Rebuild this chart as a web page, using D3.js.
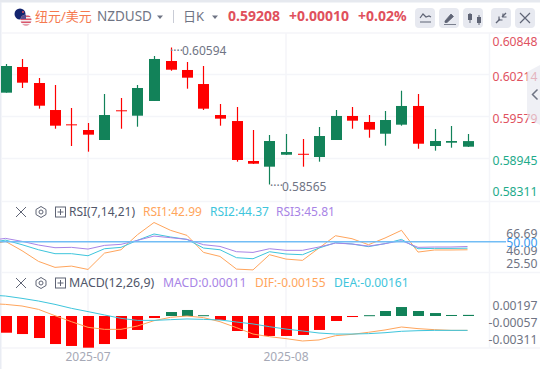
<!DOCTYPE html>
<html>
<head>
<meta charset="utf-8">
<script src="https://cdn.jsdelivr.net/npm/d3@7"></script>
<style>
html, body { margin: 0; padding: 0; background: #fff; overflow: hidden; }
text { font-family: "Noto Sans", "Noto Sans CJK SC", sans-serif; }
</style>
</head>
<body>
<script>
// daily candles (red = falling, green = rising)
const opens  = [0.59925, 0.60305, 0.60068, 0.59668, 0.59456, 0.59372, 0.59224, 0.59664, 0.59584, 0.59802, 0.60394, 0.60261, 0.60053, 0.59594, 0.59505, 0.58913, 0.58829, 0.59006, 0.59020, 0.58972, 0.59224, 0.59580, 0.59491, 0.59317, 0.59451, 0.59728, 0.59135, 0.59184, 0.59125];
const closes = [0.60320, 0.60073, 0.59732, 0.59436, 0.59446, 0.59303, 0.59594, 0.59659, 0.59994, 0.60424, 0.60265, 0.60147, 0.59688, 0.59540, 0.58928, 0.58873, 0.59209, 0.59046, 0.59012, 0.59283, 0.59580, 0.59510, 0.59377, 0.59520, 0.59728, 0.59169, 0.59209, 0.59209, 0.59208];
const highs  = [0.60350, 0.60424, 0.60142, 0.60039, 0.59698, 0.59476, 0.59905, 0.59846, 0.60039, 0.60468, 0.60594, 0.60379, 0.60320, 0.59757, 0.59713, 0.59372, 0.59298, 0.59313, 0.59239, 0.59417, 0.59668, 0.59713, 0.59594, 0.59654, 0.59954, 0.59905, 0.59387, 0.59431, 0.59313];
const lows   = [0.59925, 0.59994, 0.59688, 0.59391, 0.59135, 0.59051, 0.59224, 0.59391, 0.59421, 0.59802, 0.60250, 0.59984, 0.59668, 0.59436, 0.58903, 0.58869, 0.58565, 0.59002, 0.58829, 0.58903, 0.59224, 0.59391, 0.59258, 0.59140, 0.59436, 0.59095, 0.59066, 0.59110, 0.59120];

// first entry of each line is the point just left of the frame
const rsi1 = [47.0, 50.3, 42.2, 32.9, 27.7, 28.8, 25.9, 40.1, 43.0, 56.1, 66.69, 59.9, 55.5, 40.7, 37.2, 26.2, 25.5, 38.7, 34.9, 33.8, 44.5, 55.2, 52.6, 47.4, 53.2, 59.9, 41.0, 42.8, 42.8, 42.99];
const rsi2 = [49.0, 51.4, 47.4, 43.0, 39.6, 39.6, 37.8, 43.9, 45.1, 51.2, 56.7, 54.1, 52.0, 44.5, 43.0, 36.1, 35.2, 41.3, 39.3, 38.7, 44.5, 49.1, 48.0, 45.7, 48.3, 52.0, 43.9, 44.2, 44.2, 44.37];
const rsi3 = [51.0, 52.9, 50.3, 47.1, 44.8, 45.1, 43.6, 46.8, 47.7, 51.2, 54.9, 53.5, 52.0, 47.4, 45.9, 41.3, 40.7, 43.9, 42.5, 42.5, 45.4, 48.8, 48.0, 46.2, 48.3, 50.9, 45.1, 45.4, 45.4, 45.81];

const macdBars = [-0.00164, -0.00177, -0.00216, -0.00275, -0.00294, -0.00311, -0.00275, -0.00226, -0.00137, -0.00020, 0.00039, 0.00059, 0.00008, -0.00039, -0.00147, -0.00216, -0.00196, -0.00196, -0.00186, -0.00137, -0.00049, -0.00010, 0.00008, 0.00049, 0.00088, 0.00049, 0.00029, 0.00010, 0.00011];
const dif = [0.00122, 0.00114, 0.00098, 0.00065, 0.00003, -0.00056, -0.00111, -0.00131, -0.00131, -0.00098, -0.00046, -0.00013, 0.00000, -0.00016, -0.00056, -0.00114, -0.00177, -0.00203, -0.00222, -0.00245, -0.00235, -0.00193, -0.00180, -0.00160, -0.00137, -0.00108, -0.00124, -0.00134, -0.00141, -0.00141];
const dea = [0.00206, 0.00196, 0.00173, 0.00147, 0.00114, 0.00075, 0.00043, 0.00010, -0.00023, -0.00043, -0.00043, -0.00036, -0.00029, -0.00033, -0.00039, -0.00059, -0.00078, -0.00105, -0.00128, -0.00147, -0.00167, -0.00177, -0.00177, -0.00173, -0.00164, -0.00150, -0.00144, -0.00141, -0.00141, -0.00141];

const priceTicks = [0.60214, 0.59579, 0.58945];
const priceEdgeLabels = ["0.60848", "0.58311"];
const rsiTicks = ["66.69", "50.00", "46.09", "25.50"];
const macdTicks = ["0.00197", "-0.00057", "-0.00311"];
const months = [[5, "2025-07"], [17, "2025-08"]];

const width = 540;
const height = 369;
const red = "#ff0000";
const green = "#128259";
const gridColor = "#f4f5f9";
const grey = "#6f7484";

const svg = d3.select("body").append("svg")
    .attr("width", width)
    .attr("height", height)
    .style("display", "block");

// candle index -> pixel, shared by all three panels
const x = d3.scaleLinear().domain([0, 28]).range([5.5, 467.5]);
const y = d3.scaleLinear().domain([0.58565, 0.60594]).range([184.5, 47.5]);
const yRsi = d3.scaleLinear().domain([25.5, 66.69]).range([269.9, 222.5]);
const yMacd = d3.scaleLinear().domain([-0.00311, 0]).range([347.7, 316]);

// frame
svg.append("rect").attr("width", width).attr("height", 2.5).attr("fill", "#e6e9ef");
svg.append("rect").attr("y", 2).attr("width", 1.5).attr("height", height).attr("fill", "#e9ecf3");

// grid
const grid = svg.append("g").attr("stroke", gridColor).attr("stroke-width", 1.5);
grid.selectAll(".h").data(priceTicks).enter().append("line")
    .attr("x1", 2).attr("x2", 489)
    .attr("y1", function(d, i) { return [74.5, 116.5, 158.5][i]; })
    .attr("y2", function(d, i) { return [74.5, 116.5, 158.5][i]; });
grid.selectAll(".v").data(months).enter().append("line")
    .attr("x1", function(d) { return x(d[0]); })
    .attr("x2", function(d) { return x(d[0]); })
    .attr("y1", 33).attr("y2", 348);
[33, 201.5, 272.5, 348].forEach(function(v) {
    grid.append("line").attr("x1", 2).attr("x2", 540).attr("y1", v).attr("y2", v);
});
grid.append("line").attr("x1", 489.5).attr("x2", 489.5).attr("y1", 33).attr("y2", 348);

// candles
const candles = svg.append("g").selectAll("g")
    .data(opens)
    .enter().append("g")
    .attr("fill", function(d, i) { return closes[i] >= d ? green : red; })
    .attr("stroke", function(d, i) { return closes[i] >= d ? green : red; });

candles.append("line")
    .attr("stroke-width", 1.2)
    .attr("x1", function(d, i) { return Math.round(x(i)) + 0.5; })
    .attr("x2", function(d, i) { return Math.round(x(i)) + 0.5; })
    .attr("y1", function(d, i) { return y(highs[i]); })
    .attr("y2", function(d, i) { return y(lows[i]); });

candles.append("rect")
    .attr("stroke", "none")
    .attr("x", function(d, i) { return Math.round(x(i)) - 5; })
    .attr("width", 11)
    .attr("y", function(d, i) { return y(Math.max(d, closes[i])); })
    .attr("height", function(d, i) { return Math.max(1, Math.abs(y(d) - y(closes[i]))); });

// hi / lo notes
function note(txt, tx, ty) {
    svg.append("text").attr("x", tx).attr("y", ty)
        .attr("font-size", 12).attr("fill", grey).text(txt);
}
note("····", 170, 55);
note("0.60594", 182, 55);
note("····", 270, 190);
note("0.58565", 282, 191);

// rsi
const rsiLine = d3.line()
    .x(function(d, i) { return x(i - 1); })
    .y(function(d) { return yRsi(d); });
const rsiColors = ["#ffa55c", "#3ec5dc", "#a884e6"];
[rsi1, rsi2, rsi3].forEach(function(s, i) {
    svg.append("path").attr("d", rsiLine(s))
        .attr("fill", "none").attr("stroke", rsiColors[i]).attr("stroke-width", 1);
});
svg.append("line")
    .attr("x1", 0).attr("x2", 506)
    .attr("y1", yRsi(50)).attr("y2", yRsi(50))
    .attr("stroke", "#72bdf5").attr("stroke-width", 1.6);

// macd
svg.append("g").selectAll("rect")
    .data(macdBars)
    .enter().append("rect")
    .attr("x", function(d, i) { return Math.round(x(i)) - 5; })
    .attr("width", 11)
    .attr("y", function(d) { return d >= 0 ? yMacd(d) : yMacd(0); })
    .attr("height", function(d) { return Math.max(1, Math.abs(yMacd(d) - yMacd(0))); })
    .attr("fill", function(d) { return d >= 0 ? green : red; });

const macdLine = d3.line()
    .x(function(d, i) { return x(i - 1); })
    .y(function(d) { return yMacd(d); });
svg.append("path").attr("d", macdLine(dif))
    .attr("fill", "none").attr("stroke", "#ffa55c").attr("stroke-width", 1);
svg.append("path").attr("d", macdLine(dea))
    .attr("fill", "none").attr("stroke", "#3ec5dc").attr("stroke-width", 1);

// right axis labels
function axisText(txt, ty, color) {
    svg.append("text").attr("x", 537.5).attr("y", ty)
        .attr("text-anchor", "end").attr("font-size", 12.2)
        .attr("fill", color).text(txt);
}
axisText(priceEdgeLabels[0], 45.5, "#e0525f");
axisText("0.60214", 80.5, "#e0525f");
axisText("0.59579", 122.5, "#e0525f");
axisText("0.58945", 165, "#1eab8b");
axisText(priceEdgeLabels[1], 196, "#1eab8b");
axisText(rsiTicks[0], 238, grey);
axisText(rsiTicks[2], 254.5, grey);
axisText(rsiTicks[1], 247, "#3c9cf0");
axisText(rsiTicks[3], 268, grey);
axisText(macdTicks[0], 310, grey);
axisText(macdTicks[1], 327, grey);
axisText(macdTicks[2], 344, grey);

// months
svg.append("g").selectAll("text")
    .data(months)
    .enter().append("text")
    .attr("x", function(d) { return x(d[0]); })
    .attr("y", 361)
    .attr("text-anchor", "middle")
    .attr("font-size", 12)
    .attr("fill", "#a6a9b6")
    .text(function(d) { return d[1]; });

// side tab over the axis
svg.append("path")
    .attr("d", "M540,65L527,72V118L540,125Z")
    .attr("fill", "#e6e8f0").attr("fill-opacity", 0.65);
svg.append("path")
    .attr("d", "M537.5,89.5L532.5,94.5L537.5,99.5")
    .attr("fill", "none").attr("stroke", "#6f7484").attr("stroke-width", 1.5);

// header
const flagClip = svg.append("defs");
flagClip.append("clipPath").attr("id", "flagB").append("circle").attr("cx", 26).attr("cy", 20).attr("r", 5.5);
svg.append("circle").attr("cx", 20).attr("cy", 14).attr("r", 5.5).attr("fill", "#14246e");
svg.append("circle").attr("cx", 23).attr("cy", 12).attr("r", 1).attr("fill", "#e05060");
svg.append("circle").attr("cx", 26).attr("cy", 20).attr("r", 5.5).attr("fill", "#f3f0f2");
[16, 19, 22, 25].forEach(function(v) {
    svg.append("rect").attr("x", 20).attr("y", v - 0.5).attr("width", 12).attr("height", 1.5)
        .attr("fill", "#d9556b").attr("clip-path", "url(#flagB)");
});
svg.append("rect").attr("x", 20).attr("y", 14).attr("width", 6).attr("height", 5).attr("fill", "#5a4f8f").attr("clip-path", "url(#flagB)");

function head(txt, tx, size, color, weight) {
    svg.append("text").attr("x", tx).attr("y", 21)
        .attr("font-size", size).attr("fill", color)
        .attr("font-weight", weight || 400).text(txt);
}
head("纽元/美元", 35, 13, "#f5794f");
head("NZDUSD", 97, 13.5, "#6f7484");
head("日K", 183, 13, "#6f7484");
head("0.59208", 228, 14, "#e0505c", 700);
head("+0.00010", 289, 14, "#e0505c", 700);
head("+0.02%", 358, 14, "#e0505c", 700);

svg.append("path").attr("d", "M157,15.5h6l-3,3.5Z").attr("fill", "#6f7484");
svg.append("path").attr("d", "M212,15.5h6l-3,3.5Z").attr("fill", "#6f7484");
svg.append("line").attr("x1", 173.5).attr("x2", 173.5).attr("y1", 10).attr("y2", 23).attr("stroke", "#c9ccd6");

// toolbar buttons
[415, 439, 463, 491, 515].forEach(function(bx) {
    svg.append("rect").attr("x", bx).attr("y", 8).attr("width", 20).attr("height", 20).attr("rx", 4).attr("fill", "#e7e9f0");
});
const iconColor = "#5f6475";
function icon(d, w, fill) {
    svg.append("path").attr("d", d)
        .attr("fill", fill ? iconColor : "none")
        .attr("stroke", iconColor).attr("stroke-width", w);
}
icon("M420,18L423,14L426,17L429,16L431,17M420,22H431", 1.2);
icon("M445,21L451,14L453.5,16.5L447,22.5H445ZM444,24.5H456", 0.8, true);
icon("M470,13V23M479,15V25", 1);
svg.append("rect").attr("x", 468).attr("y", 14).attr("width", 4).attr("height", 6).attr("fill", iconColor);
svg.append("rect").attr("x", 477).attr("y", 17).attr("width", 4).attr("height", 6).attr("fill", iconColor);
icon("M496,23L500,19M506,13L502,17", 1.4);
icon("M499,16.5V20H502.5", 1.2);
icon("M503,13.5V17H506.5", 1.2);
icon("M520,13L530,23M530,13L520,23", 1.2);

// panel title rows
function closeIcon(cy) {
    icon("M16," + (cy - 5) + "L26," + (cy + 5) + "M26," + (cy - 5) + "L16," + (cy + 5), 1);
    icon("M41," + (cy - 5.5) + "L46," + (cy - 2.5) + "V" + (cy + 2.5) + "L41," + (cy + 5.5) + "L36," + (cy + 2.5) + "V" + (cy - 2.5) + "Z", 1);
    svg.append("circle").attr("cx", 41).attr("cy", cy).attr("r", 2).attr("fill", "none").attr("stroke", iconColor);
    svg.append("rect").attr("x", 55.5).attr("y", cy - 5).attr("width", 10).attr("height", 10)
        .attr("fill", "none").attr("stroke", iconColor);
    icon("M57.5," + cy + "H63.5M60.5," + (cy - 3) + "V" + (cy + 3), 1);
}
closeIcon(212);
closeIcon(283);

function title(txt, tx, ty, color, size) {
    svg.append("text").attr("x", tx).attr("y", ty)
        .attr("font-size", size || 12).attr("fill", color).text(txt);
}
title("RSI(7,14,21)", 69, 216, "#50566a");
title("RSI1:42.99", 143, 216, "#ffa55c");
title("RSI2:44.37", 210, 216, "#3ec5dc");
title("RSI3:45.81", 276, 216, "#a884e6");
title("MACD(12,26,9)", 69, 287, "#50566a", 12.4);
title("MACD:0.00011", 163, 287, "#a884e6", 12.2);
title("DIF:-0.00155", 255, 287, "#ffa55c");
title("DEA:-0.00161", 334, 287, "#3ec5dc");
</script>
</body>
</html>
